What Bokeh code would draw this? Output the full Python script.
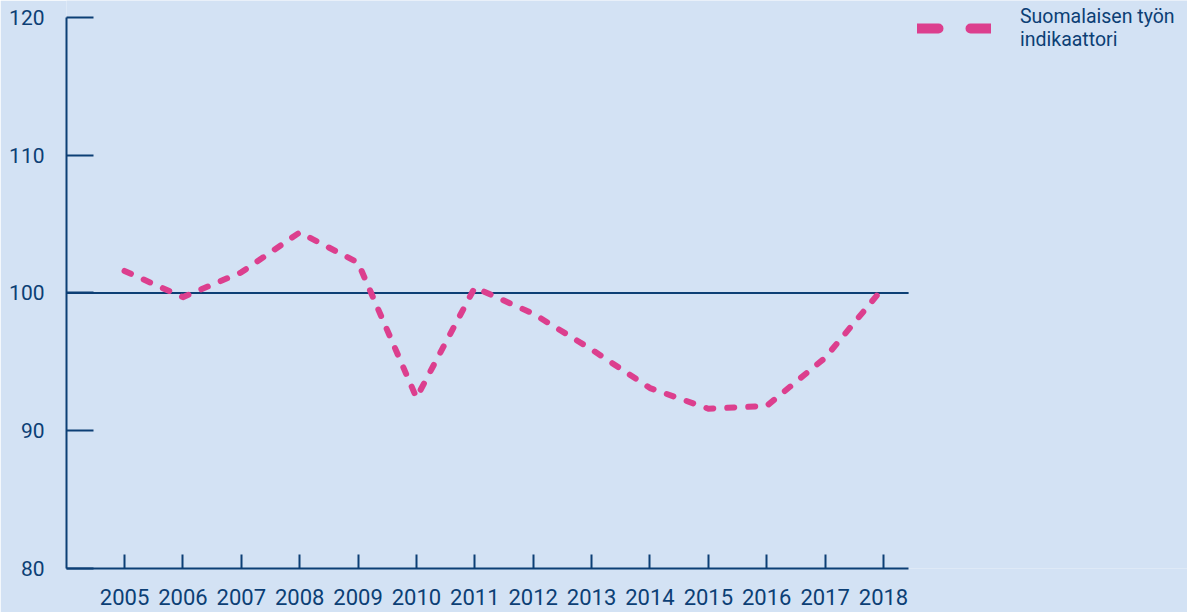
from bokeh.plotting import figure
from bokeh.models import Range1d, FixedTicker, Legend, LegendItem
from bokeh.embed import file_html
from bokeh.resources import INLINE

# ---- data ----
years = [2005, 2006, 2007, 2008, 2009, 2010, 2011, 2012, 2013, 2014, 2015, 2016, 2017, 2018]
index_values = [101.6, 99.7, 101.5, 104.4, 102.2, 92.4, 100.4, 98.5, 95.9, 93.1, 91.6, 91.8, 95.3, 100.4]
y_ticks = [80, 90, 100, 110, 120]
series_label = "Suomalaisen työn\nindikaattori"
reference_level = 100

BG = "#d3e2f4"
NAVY = "#0c3f75"
PINK = "#dc3f8e"
FONT = "Roboto"

# axis extents (the plotting area continues to the right to host the legend)
X_START, X_AXIS_END, X_END = 2004.006, 2018.43, 2023.207
Y_START, Y_AXIS_END, Y_END = 80, 120, 121.234

p = figure(width=1187, height=612,
           x_range=Range1d(X_START, X_END), y_range=Range1d(Y_START, Y_END),
           output_backend="svg", toolbar_location=None,
           min_border_left=66, min_border_right=0, min_border_top=0, min_border_bottom=44,
           background_fill_color=BG, border_fill_color=BG, outline_line_color=None)
p.xgrid.visible = False
p.ygrid.visible = False

for ax in (p.xaxis[0], p.yaxis[0]):
    ax.axis_line_color = NAVY
    ax.axis_line_width = 2
    ax.major_tick_line_color = NAVY
    ax.major_tick_line_width = 2
    ax.major_tick_out = 0
    ax.minor_tick_line_color = None
    ax.major_label_text_color = NAVY
    ax.major_label_text_font = FONT
    ax.major_label_text_font_size = "21px"

p.xaxis.ticker = FixedTicker(ticks=years)
p.xaxis.bounds = (X_START, X_AXIS_END)
p.xaxis.major_tick_in = 14
p.xaxis.major_label_standoff = 20
p.xaxis.major_label_text_font_size = "22px"
p.yaxis.ticker = FixedTicker(ticks=y_ticks)
p.yaxis.bounds = (Y_START, Y_AXIS_END)
p.yaxis.major_tick_in = 27
p.yaxis.major_label_standoff = 22

# reference line at 100 across the axis extent
p.segment(x0=[X_START], y0=[reference_level], x1=[X_AXIS_END], y1=[reference_level],
          line_color=NAVY, line_width=2)

p.line(years, index_values, line_color=PINK, line_width=6, line_dash="7 14",
       line_cap="round", line_join="round")

# legend key (thicker dashes, as in the reference legend); a single point draws nothing in the plot
key = p.line(x=years[:1], y=index_values[:1], line_color=PINK, line_width=10,
             line_dash="21 32", line_cap="round")
legend = Legend(items=[LegendItem(label=series_label, renderers=[key])],
                location=(851, 517), orientation="vertical",
                background_fill_alpha=0, border_line_color=None,
                padding=0, margin=0, spacing=0,
                glyph_width=74, glyph_height=44, label_standoff=29,
                label_text_font=FONT, label_text_font_size="19.5px",
                label_text_color=NAVY, label_text_line_height=1.1)
p.add_layout(legend)

open("out.html", "w").write(file_html(p, INLINE))
